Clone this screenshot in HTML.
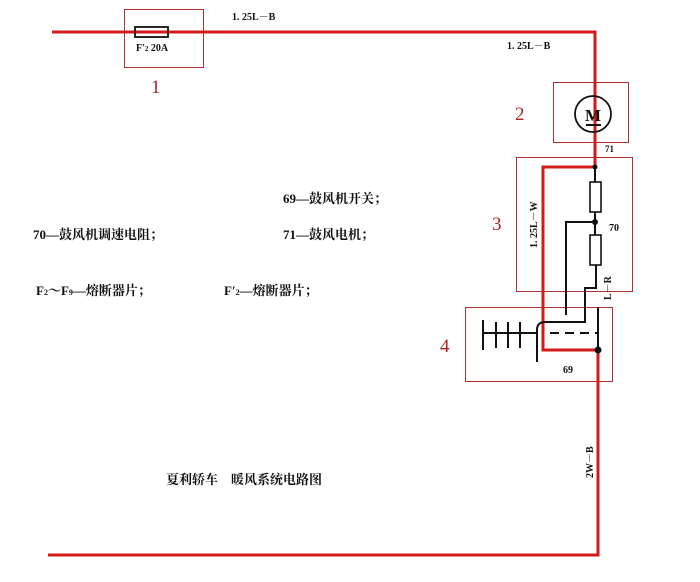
<!DOCTYPE html>
<html><head><meta charset="utf-8"><style>
body{margin:0;background:#fff;}
svg{display:block;font-family:"Liberation Serif","Noto Serif CJK SC",serif;}
.b{font-family:"Liberation Serif","Noto Serif CJK SC",serif;font-weight:bold;}
</style></head><body>
<svg width="700" height="582" viewBox="0 0 700 582" xmlns="http://www.w3.org/2000/svg">
<rect width="700" height="582" fill="#fff"/>
<g fill="none" stroke="#b03030" stroke-width="1">
<rect x="124.5" y="9.5" width="79" height="58"/>
<rect x="553.5" y="82.5" width="75" height="60"/>
<rect x="516.5" y="157.5" width="116" height="134"/>
<rect x="465.5" y="307.5" width="147" height="74"/>
</g>
<g fill="none" stroke="#d21a1a" stroke-width="3">
<polyline points="52,32 595,32 595,167"/>
<polyline points="595,167 543,167 543,350 598,350 598,555 48,555"/>
</g>
<g fill="none" stroke="#111" stroke-width="2">
<rect x="135" y="27" width="33" height="10" stroke-width="1.8"/>
<circle cx="593" cy="114" r="18" stroke-width="1.8"/>
<line x1="586" y1="125" x2="601" y2="125"/>
<line x1="595" y1="167" x2="595" y2="182"/>
<rect x="590" y="182" width="11" height="30" stroke-width="1.6"/>
<line x1="595" y1="212" x2="595" y2="235"/>
<polyline points="566,315 566,222 595,222"/>
<rect x="590" y="235" width="11" height="30" stroke-width="1.6"/>
<polyline points="596,265 596,288 585,288 585,322 545,322"/>
<line x1="598" y1="307" x2="598" y2="350"/>
<line x1="550" y1="333" x2="598" y2="333" stroke-dasharray="9,6"/>
<line x1="482" y1="333" x2="536" y2="333"/>
<line x1="483" y1="320" x2="483" y2="350"/>
<line x1="496" y1="322" x2="496" y2="348"/>
<line x1="508" y1="322" x2="508" y2="348"/>
<line x1="520" y1="322" x2="520" y2="348"/>
<path d="M537 362 L537 330 Q537 322 545 322"/>
</g>
<text x="593" y="121" text-anchor="middle" class="b" font-size="17" fill="#111">M</text>
<circle cx="595" cy="167" r="2.5" fill="#111"/>
<circle cx="595" cy="222" r="3" fill="#111"/>
<circle cx="598" cy="350" r="3.5" fill="#111"/>
<g class="b" font-size="10" fill="#111">
<text x="136" y="51">F′<tspan font-size="7">2</tspan>  20A</text>
<text x="232" y="20">1. 25L－B</text>
<text x="507" y="49">1. 25L－B</text>
<text x="605" y="152" font-size="9">71</text>
<text x="609" y="231">70</text>
<text x="563" y="373">69</text>
<text transform="translate(537,248) rotate(-90)">1. 25L－W</text>
<text transform="translate(611,300) rotate(-90)">L－R</text>
<text transform="translate(593,478) rotate(-90)">2W－B</text>
</g>
<g fill="#b02020" font-size="19">
<text x="151" y="93">1</text>
<text x="515" y="120">2</text>
<text x="492" y="230">3</text>
<text x="440" y="352">4</text>
</g>
<g class="b" font-size="13" fill="#111">
<text x="283" y="203">69—鼓风机开关；</text>
<text x="33" y="239">70—鼓风机调速电阻；</text>
<text x="283" y="239">71—鼓风电机；</text>
<text x="36" y="295">F<tspan font-size="8">2</tspan>～F<tspan font-size="8">9</tspan>—熔断器片；</text>
<text x="224" y="295">F′<tspan font-size="8">2</tspan>—熔断器片；</text>
<text x="166" y="484">夏利轿车　暖风系统电路图</text>
</g>
</svg>
</body></html>
